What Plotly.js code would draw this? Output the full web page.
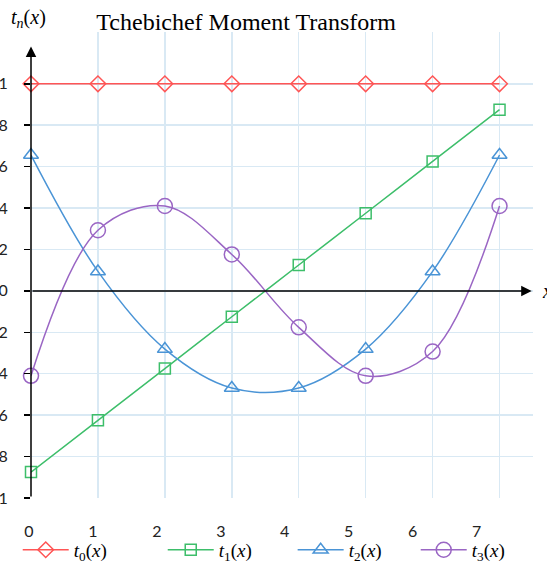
<!DOCTYPE html>
<html>
<head>
<meta charset="utf-8">
<script src="https://cdn.plot.ly/plotly-3.0.1.min.js"></script>
<style>html,body{margin:0;padding:0;background:#fff;}#chart{width:547px;height:564px;}</style>
</head>
<body>
<div id="chart"></div>
<script>
// x positions (samples) and tick labels
const xs = [0, 1, 2, 3, 4, 5, 6, 7];
const xTickLabels = ['0', '1', '2', '3', '4', '5', '6', '7'];
const yTickVals = [-1, -0.8, -0.6, -0.4, -0.2, 0, 0.2, 0.4, 0.6, 0.8, 1];

// series values
const t0 = [1, 1, 1, 1, 1, 1, 1, 1];
const t1 = [-0.875, -0.625, -0.375, -0.125, 0.125, 0.375, 0.625, 0.875];
const t2 = [0.656, 0.094, -0.281, -0.469, -0.469, -0.281, 0.094, 0.656];
const t3 = [-0.410, 0.293, 0.410, 0.176, -0.176, -0.410, -0.293, 0.410];

const names = ['<i>t</i><sub>0</sub>(<i>x</i>)', '<i>t</i><sub>1</sub>(<i>x</i>)', '<i>t</i><sub>2</sub>(<i>x</i>)', '<i>t</i><sub>3</sub>(<i>x</i>)'];
const colors = ['#FF5555', '#3DBE6A', '#4A94D6', '#9A66C4'];
const symbols = ['diamond-open', 'square-open', 'triangle-up-open', 'circle-open'];
const sizes = [12, 11, 13, 15];
const series = [t0, t1, t2, t3];
const legendIds = ['legend', 'legend2', 'legend3', 'legend4'];
const legendX = [0.0324, 0.2975, 0.535, 0.760];

const traces = series.map((ys, i) => ({
  type: 'scatter', mode: 'lines+markers',
  x: xs, y: ys, name: names[i], legend: legendIds[i],
  line: {color: colors[i], width: 1.5, shape: 'spline', smoothing: 1},
  marker: {symbol: symbols[i], size: sizes[i], color: colors[i], line: {width: 1.5, color: colors[i]}},
  cliponaxis: false, hoverinfo: 'skip'
}));
// helper trace so the label axis is drawn
traces.push({type: 'scatter', mode: 'markers', x: [0], y: [null], xaxis: 'x2', yaxis: 'y', showlegend: false, hoverinfo: 'skip'});

const gridColor = '#D9E9F4';
const layout = {
  width: 547, height: 564,
  margin: {l: 31, r: 14, t: 32, b: 66, autoexpand: false},
  paper_bgcolor: '#fff', plot_bgcolor: '#fff',
  showlegend: true,
  title: {text: 'Tchebichef Moment Transform', x: 0.45, xref: 'container', xanchor: 'center', y: 0.962, yref: 'container', yanchor: 'middle',
          font: {family: 'Liberation Serif, Times New Roman, serif', size: 24, color: '#000'}},
  xaxis: {range: [0, 7.5], tick0: 0, dtick: 1, showgrid: true, gridcolor: gridColor, gridwidth: 1.5,
          showticklabels: false, zeroline: false, showline: false, ticks: ''},
  xaxis2: {overlaying: 'x', anchor: 'y', side: 'bottom', range: [-0.03125, 7.82], tickvals: xs, ticktext: xTickLabels,
           showgrid: false, zeroline: false, showline: false, ticks: '', ticklabelstandoff: 22, ticklabelshift: -4,
           tickfont: {family: 'Lato, Carlito, sans-serif', size: 16, color: '#222'}},
  yaxis: {range: [-1, 1.25], tickvals: yTickVals, showgrid: true, gridcolor: gridColor, gridwidth: 1.5,
          zeroline: false, showline: false, ticks: 'outside', ticklen: 6, tickwidth: 1.5, tickcolor: '#000',
          ticklabelstandoff: 13, tickfont: {family: 'Lato, Carlito, sans-serif', size: 16, color: '#222'}},
  annotations: [
    {x: 7.48, y: 0, ax: 0, ay: 0, xref: 'x', yref: 'y', axref: 'x', ayref: 'y', text: '', showarrow: true,
     arrowhead: 2, arrowsize: 1.4, arrowwidth: 1.5, arrowcolor: '#000', standoff: 0, startstandoff: 0},
    {x: 0, y: 1.18, ax: 0, ay: -1, xref: 'x', yref: 'y', axref: 'x', ayref: 'y', text: '', showarrow: true,
     arrowhead: 2, arrowsize: 1.4, arrowwidth: 1.5, arrowcolor: '#000', standoff: 0, startstandoff: 0},
    {x: -0.004, y: 1.03, xref: 'paper', yref: 'paper', xanchor: 'center', yanchor: 'middle', showarrow: false,
     text: '<i>t</i><sub><i>n</i></sub>(<i>x</i>)', font: {family: 'Liberation Serif, Times New Roman, serif', size: 20, color: '#000'}},
    {x: 1.013, y: 0, xref: 'paper', yref: 'y', xanchor: 'left', yanchor: 'middle', showarrow: false,
     text: '<i>x</i>', font: {family: 'Liberation Serif, Times New Roman, serif', size: 20, color: '#000'}}
  ]
};
legendIds.forEach((id, i) => {
  layout[id] = {orientation: 'h', xref: 'container', yref: 'container', x: legendX[i], xanchor: 'left', y: 0.025, yanchor: 'middle',
    font: {family: 'Liberation Serif, Times New Roman, serif', size: 19, color: '#000'},
    itemwidth: 46, bgcolor: 'rgba(0,0,0,0)'};
});

Plotly.newPlot('chart', traces, layout, {displayModeBar: false, staticPlot: true});
</script>
</body>
</html>
